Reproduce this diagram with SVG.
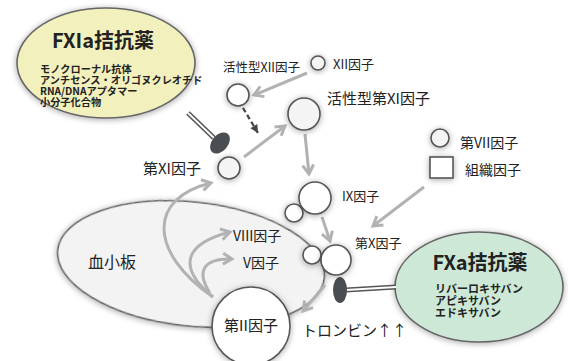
<svg xmlns="http://www.w3.org/2000/svg" width="568" height="361" viewBox="0 0 568 361">
<defs>
<style>
.t{font-family:"Noto Sans CJK JP","Liberation Sans",sans-serif;fill:#222}
.b{font-weight:bold}
.node{fill:#f4f4f4;stroke:#555;stroke-width:1.6;filter:url(#sh)}
.w{fill:#fff;stroke:#555;stroke-width:1.6;filter:url(#sh)}
.arr{fill:none;stroke:#b2b2b2;stroke-width:3;marker-end:url(#ga)}
.dash{fill:none;stroke:#444;stroke-width:2.2;stroke-dasharray:5 3;marker-end:url(#da)}
.blob{fill:#4a4d52}
</style>
<filter id="sh" x="-40%" y="-40%" width="180%" height="180%">
<feGaussianBlur in="SourceAlpha" stdDeviation="3"/>
<feOffset dx="0" dy="1" result="o"/>
<feComponentTransfer><feFuncA type="linear" slope="0.35"/></feComponentTransfer>
<feMerge><feMergeNode/><feMergeNode in="SourceGraphic"/></feMerge>
</filter>
<marker id="ga" markerUnits="userSpaceOnUse" viewBox="0 0 14 14" refX="11" refY="7" markerWidth="14" markerHeight="14" orient="auto">
<path d="M2,1.5 L11,7 L2,12.5" fill="none" stroke="#b2b2b2" stroke-width="3"/>
</marker>
<marker id="da" markerUnits="userSpaceOnUse" viewBox="0 0 12 12" refX="10" refY="6" markerWidth="12" markerHeight="12" orient="auto">
<path d="M2,2 L10,6 L2,10 z" fill="#444"/>
</marker>
</defs>
<rect width="568" height="361" fill="#fff"/>

<g id="platelet">
<ellipse cx="191" cy="264" rx="134" ry="62" transform="rotate(6 191 264)" fill="#f3f3f3" stroke="#666" stroke-width="1.6" filter="url(#sh)"/>
<text class="t" x="88" y="268" font-size="16">血小板</text>
</g>

<g id="fxia">
<ellipse cx="106" cy="63" rx="89" ry="55" fill="#f2f0bd" stroke="#666" stroke-width="1.6" filter="url(#sh)"/>
<text class="t b" x="103" y="48" font-size="20" text-anchor="middle">FXIa拮抗薬</text>
<text class="t b" font-size="10.2"><tspan x="40" y="73">モノクローナル抗体</tspan><tspan x="40" y="84">アンチセンス・オリゴヌクレオチド</tspan><tspan x="40" y="95">RNA/DNAアプタマー</tspan><tspan x="40" y="106">小分子化合物</tspan></text>
</g>

<g id="fxa">
<ellipse cx="479" cy="287" rx="84" ry="55" fill="#cde8d6" stroke="#666" stroke-width="1.6" filter="url(#sh)"/>
<text class="t b" x="480" y="270" font-size="20" text-anchor="middle">FXa拮抗薬</text>
<text class="t b" font-size="11"><tspan x="435" y="293">リバーロキサバン</tspan><tspan x="435" y="305">アピキサバン</tspan><tspan x="435" y="317">エドキサバン</tspan></text>
</g>

<g id="connectors">
<path class="arr" d="M307,73 L254,95"/>
<path class="dash" d="M243,108 L258,133"/>
<path class="arr" d="M244,157 L285,126"/>
<path class="arr" d="M305,134 L309,174"/>
<path class="arr" d="M322,217 L330,241"/>
<path class="arr" d="M424,187 L373,226"/>
<path class="arr" d="M325,285 L303,311"/>
<path class="arr" d="M213,297 C148,252 148,198 211,183"/>
<path class="arr" d="M213,297 C180,270 180,245 230,232"/>
<path class="arr" d="M210,293 C195,270 205,258 232,259"/>
<path d="M188,113 L214,138" stroke="#555" stroke-width="5" fill="none"/>
<path d="M188,113 L214,138" stroke="#fff" stroke-width="1.8" fill="none"/>
<ellipse class="blob" cx="220" cy="143" rx="12" ry="8" transform="rotate(-50 220 143)"/>
<path d="M346,290 L396,287" stroke="#555" stroke-width="5" fill="none"/>
<path d="M346,290 L396,287" stroke="#fff" stroke-width="1.8" fill="none"/>
<ellipse class="blob" cx="340" cy="290" rx="7" ry="13"/>
</g>

<g id="f12">
<circle class="node" cx="318" cy="63" r="7"/>
<text class="t" x="333" y="69" font-size="13">XII因子</text>
</g>
<g id="f12a">
<circle class="w" cx="238" cy="95" r="11"/>
<text class="t" x="223" y="72" font-size="12.5">活性型XII因子</text>
</g>
<g id="f11a">
<circle class="node" cx="304" cy="114" r="16"/>
<text class="t" x="327" y="104" font-size="15">活性型第XI因子</text>
</g>
<g id="f11">
<circle class="node" cx="229" cy="168" r="11"/>
<text class="t" x="143" y="174" font-size="15">第XI因子</text>
</g>
<g id="f9">
<circle class="w" cx="294" cy="213" r="9"/>
<circle class="w" cx="315" cy="198" r="16"/>
<text class="t" x="342" y="201" font-size="13">IX因子</text>
</g>
<g id="f10">
<circle class="w" cx="312" cy="255" r="9"/>
<circle class="w" cx="336" cy="260" r="15"/>
<text class="t" x="355" y="248" font-size="13">第X因子</text>
</g>
<g id="f8">
<text class="t" x="233" y="241" font-size="14">VIII因子</text>
</g>
<g id="f5">
<text class="t" x="243" y="268" font-size="14">V因子</text>
</g>
<g id="f2">
<circle class="w" cx="251" cy="326" r="39"/>
<text class="t" x="251" y="331" font-size="15" text-anchor="middle">第II因子</text>
</g>
<g id="thrombin">
<text class="t" x="302" y="336" font-size="15">トロンビン↑↑</text>
</g>
<g id="legend">
<circle class="node" cx="440" cy="138" r="9"/>
<text class="t" x="460" y="148" font-size="14">第VII因子</text>
<rect class="w" x="430" y="157" width="23" height="21"/>
<text class="t" x="465" y="175" font-size="14">組織因子</text>
</g>
</svg>
